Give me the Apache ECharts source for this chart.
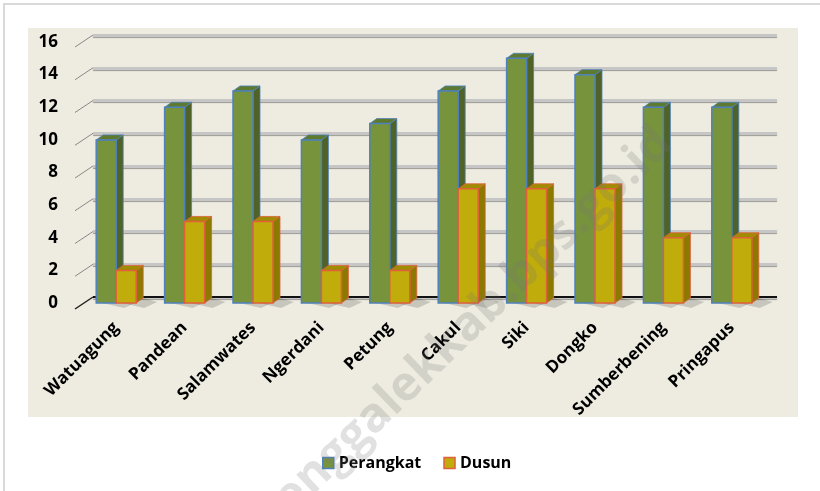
<!DOCTYPE html>
<html>
<head>
<meta charset="utf-8">
<script src="https://cdn.jsdelivr.net/npm/echarts@6/dist/echarts.min.js"></script>
<style>
  html, body { margin: 0; padding: 0; background: #fff; }
  #canvas { width: 820px; height: 491px; }
</style>
</head>
<body>
<div id="canvas"></div>
<script>
var desa = ['Watuagung', 'Pandean', 'Salamwates', 'Ngerdani', 'Petung', 'Cakul', 'Siki', 'Dongko', 'Sumberbening', 'Pringapus'];
var perangkat = [10, 12, 13, 10, 11, 13, 15, 14, 12, 12];
var dusun = [2, 5, 5, 2, 2, 7, 7, 7, 4, 4];
var yTicks = [0, 2, 4, 6, 8, 10, 12, 14, 16];

var DX = 7, DY = 5, W = 20;

// batang 3D: muka depan, samping, atas
function bar3d(offset, front, side, top, border) {
    return function (params, api) {
        var p = api.coord([api.value(0), api.value(1)]);
        var base = api.coord([api.value(0), 0]);
        var x = p[0] + offset, y = p[1], y0 = base[1];
        return {
            type: 'group',
            children: [
                { type: 'polygon', shape: { points: [[x + 6, y0], [x + W + DX, y0 - DY], [x + W + DX + 14, y0 - 1], [x + W + 8, y0 + 5]] },
                  style: { fill: 'rgba(0,0,0,0.16)' } },
                { type: 'polygon', shape: { points: [[x + W, y], [x + W + DX, y - DY], [x + W + DX, y0 - DY], [x + W, y0]] },
                  style: { fill: side, stroke: border, lineWidth: 0.8 } },
                { type: 'polygon', shape: { points: [[x, y], [x + DX, y - DY], [x + W + DX, y - DY], [x + W, y]] },
                  style: { fill: top, stroke: border, lineWidth: 0.8 } },
                { type: 'rect', shape: { x: x, y: y, width: W, height: y0 - y },
                  style: { fill: front, stroke: border, lineWidth: 1.5 } }
            ]
        };
    };
}

// garis miring penghubung tick ke dinding belakang
function wallTick(params, api) {
    var v = api.value(0);
    var b = api.coord([0, v]);
    var e = api.coord([1, v]);
    var kids = [{ type: 'line', shape: { x1: b[0] - 18, y1: b[1] + 12, x2: b[0], y2: b[1] },
                  style: { stroke: v === 0 ? '#222' : '#888', lineWidth: v === 0 ? 1.5 : 1 } }];
    if (v === 0) {
        kids.push({ type: 'line', shape: { x1: b[0], y1: b[1], x2: e[0], y2: e[1] },
                    style: { stroke: '#111', lineWidth: 2 } });
    }
    return { type: 'group', children: kids };
}

var myChart = echarts.init(document.getElementById('canvas'));

var option = {
    animation: false,
    backgroundColor: '#fff',
    textStyle: { fontFamily: 'Open Sans' },
    graphic: [
        { type: 'rect', z: -10, shape: { x: 4, y: 4, width: 830, height: 500 },
          style: { fill: '#fff', stroke: '#d9d9d9', lineWidth: 2 } },
        { type: 'rect', z: -9, shape: { x: 28, y: 28, width: 770, height: 389 },
          style: { fill: '#EEECE1' } },
        { type: 'text', z: 100, x: 458, y: 336, rotation: 44 * Math.PI / 180,
          style: { text: 'trenggalekkab.bps.go.id', fill: 'rgba(120,120,120,0.22)',
                   font: 'bold 48px "Open Sans"', align: 'center', verticalAlign: 'middle' } }
    ],
    legend: {
        left: 317,
        top: 450,
        itemWidth: 11,
        itemHeight: 11,
        itemGap: 22,
        icon: 'rect',
        textStyle: { fontSize: 16, fontWeight: 'bold', color: '#000', fontFamily: 'Open Sans' },
        data: [
            { name: 'Perangkat', itemStyle: { color: '#77933C', borderColor: '#4F81BD', borderWidth: 1.5 } },
            { name: 'Dusun', itemStyle: { color: '#C0AC0A', borderColor: '#E0603C', borderWidth: 1.5 } }
        ]
    },
    grid: [
        { left: 82, right: 54, top: 42, bottom: 188 },
        { left: 93, right: 43, top: 35, bottom: 194 }
    ],
    xAxis: [
        {
            type: 'category', gridIndex: 0, data: desa,
            axisLine: { show: false }, axisTick: { show: false },
            axisLabel: { rotate: 45, margin: 22, interval: 0, fontSize: 17, fontWeight: 'bold', color: '#000' }
        },
        { type: 'value', gridIndex: 1, min: 0, max: 1, show: false }
    ],
    yAxis: [
        {
            type: 'value', gridIndex: 0, min: 0, max: 16, interval: 2,
            axisLine: { show: false }, axisTick: { show: false }, splitLine: { show: false },
            axisLabel: { margin: 24, fontSize: 17, fontWeight: 'bold', color: '#000' }
        },
        {
            type: 'value', gridIndex: 1, min: 0, max: 16, interval: 2,
            axisLine: { show: false }, axisTick: { show: false }, axisLabel: { show: false },
            splitLine: { lineStyle: { color: '#c6c6c6', width: 3, shadowColor: 'rgba(0,0,0,0.35)', shadowOffsetY: 1, shadowBlur: 1 } }
        }
    ],
    series: [
        {
            type: 'custom', name: 'dinding', xAxisIndex: 1, yAxisIndex: 1, z: 1,
            silent: true, renderItem: wallTick,
            data: yTicks.map(function (v) { return [v]; })
        },
        {
            type: 'custom', name: 'Perangkat', xAxisIndex: 0, yAxisIndex: 0, z: 3,
            itemStyle: { color: '#77933C' },
            renderItem: bar3d(-20, '#77933C', '#4F6228', '#5E7A2E', '#4F81BD'),
            data: perangkat.map(function (v, i) { return [i, v]; })
        },
        {
            type: 'custom', name: 'Dusun', xAxisIndex: 0, yAxisIndex: 0, z: 4,
            itemStyle: { color: '#C0AC0A' },
            renderItem: bar3d(0, '#C0AC0A', '#8C7A00', '#A08C00', '#E0603C'),
            data: dusun.map(function (v, i) { return [i, v]; })
        }
    ]
};

myChart.setOption(option);
</script>
</body>
</html>
